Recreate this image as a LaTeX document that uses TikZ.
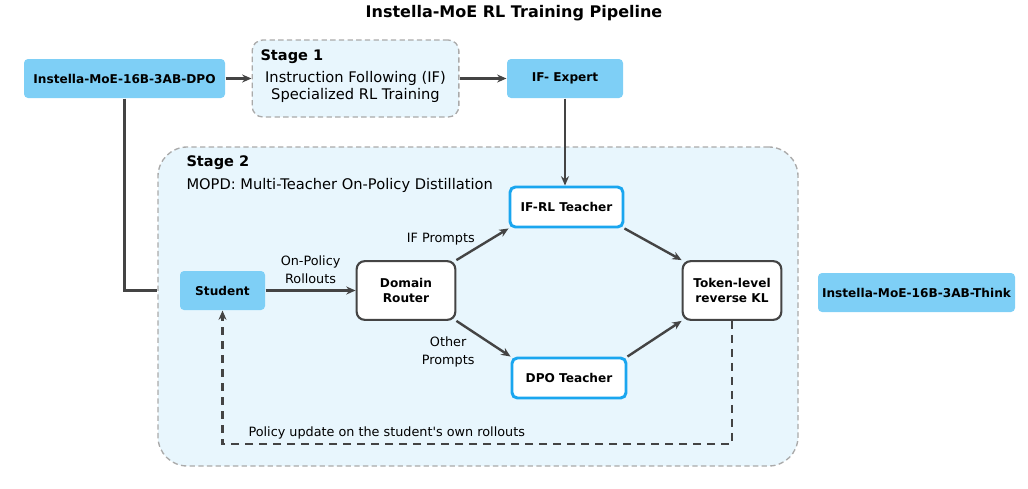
\documentclass[tikz,border=0pt]{standalone}
\usepackage{fontspec}
\setmainfont{DejaVu Sans}
\usepackage{tikz}
\usetikzlibrary{positioning,arrows.meta}
\definecolor{modelblue}{HTML}{7ECFF6}
\definecolor{stagefill}{HTML}{E8F6FD}
\definecolor{teacherblue}{HTML}{1AA6EF}
\definecolor{linegray}{HTML}{444444}
\definecolor{dashgray}{HTML}{AAAAAA}

\begin{document}
\begin{tikzpicture}[x=0.75pt, y=-0.75pt, thick, >={Stealth[length=7pt,width=6pt]},
    model/.style = {fill=modelblue, rounded corners=3pt, inner sep=0pt, font=\fontsize{9.1}{10.8}\bfseries},
    stagebox/.style = {draw=dashgray, dash pattern=on 4pt off 2.5pt, line width=1pt, fill=stagefill, inner sep=0pt},
    teacher/.style = {draw=teacherblue, line width=2.2pt, fill=white, rounded corners=4pt, inner sep=0pt, minimum height=30pt, font=\fontsize{9.1}{10.8}\bfseries},
    block/.style = {draw=linegray, line width=1.6pt, fill=white, rounded corners=6pt, inner sep=0pt, align=center, minimum width=74pt, minimum height=44pt, font=\fontsize{9.1}{10.8}\bfseries},
    flow/.style = {->, draw=linegray, line width=1.8pt},
    label/.style = {font=\fontsize{9.6}{13.5}\selectfont, align=center}]
            \useasboundingbox (0,0) rectangle (1028,489);
            % Title
            \node (title) at (514,13) {\fontsize{12}{14}\bfseries Instella-MoE RL Training Pipeline};
            % Stages
            \node[stagebox, rounded corners=8pt, minimum width=155pt, minimum height=57.75pt] (stage1) at (355.5,78.5) {};
            \node[stagebox, rounded corners=22pt, minimum width=480pt, minimum height=239.25pt] (stage2) at (478,306.5) {};
            \node[anchor=west, inner sep=0pt, font=\fontsize{10.9}{12}\bfseries] (s1title) at (260,57) {Stage 1};
            \node[label, font=\fontsize{11}{12.75}\selectfont] (s1text) at (355.5,87) {Instruction Following (IF)\\Specialized RL Training};
            \node[anchor=west, inner sep=0pt, font=\fontsize{10.9}{12}\bfseries] (s2title) at (186,163) {Stage 2};
            \node[anchor=west, inner sep=0pt, font=\fontsize{11}{12}\selectfont] (s2text) at (186,185) {MOPD: Multi-Teacher On-Policy Distillation};
            % Nodes
            \node[model, minimum width=150.75pt, minimum height=29.25pt] (dpo) at (124.5,78.5) {Instella-MoE-16B-3AB-DPO};
            \node[model, minimum width=87pt, minimum height=29.25pt] (expert) at (565,78.5) {IF- Expert};
            \node[model, minimum width=63.75pt, minimum height=29.25pt] (student) at (222.5,290.5) {Student};
            \node[block] (router) at (406,290.5) {Domain\\Router};
            \node[teacher, minimum width=84.75pt] (ifrl) at (566.5,207) {IF-RL Teacher};
            \node[teacher, minimum width=85.5pt] (dpot) at (569,378) {DPO Teacher};
            \node[block] (kl) at (732,290.5) {Token-level\\reverse KL};
            \node[model, minimum width=147.75pt, minimum height=29.25pt] (think) at (916.5,292.5) {Instella-MoE-16B-3AB-Think};
            \coordinate (fb) at (478,444);
            % Edges
            \draw[flow] (dpo) -- (stage1);
            \draw[flow] (stage1) -- (expert);
            \draw[flow] (expert.south) -- (expert.south |- ifrl.north);
            \draw[draw=linegray, line width=1.8pt] (dpo.south) |- (stage2.west |- student);
            \draw[flow] (student) -- node[label, above=1pt] {On-Policy\\Rollouts} (router);
            \draw[flow] (router.north east) -- node[label, anchor=south east, pos=0.4, inner sep=1pt] {IF Prompts} (ifrl.south west);
            \draw[flow] (router.south east) -- node[label, anchor=north east, pos=0.38, inner sep=1pt] {Other\\Prompts} (dpot.north west);
            \draw[flow] (ifrl.south east) -- (kl.north west);
            \draw[flow] (dpot.north east) -- (kl.south west);
            \draw[flow, dash pattern=on 6pt off 4.5pt] (kl.south) |- (fb) -| (student.south);
            \node[label, anchor=base west, inner sep=0pt] (fblabel) at (248,436) {Policy update on the student\textquotesingle s own rollouts};
\end{tikzpicture}
\end{document}
